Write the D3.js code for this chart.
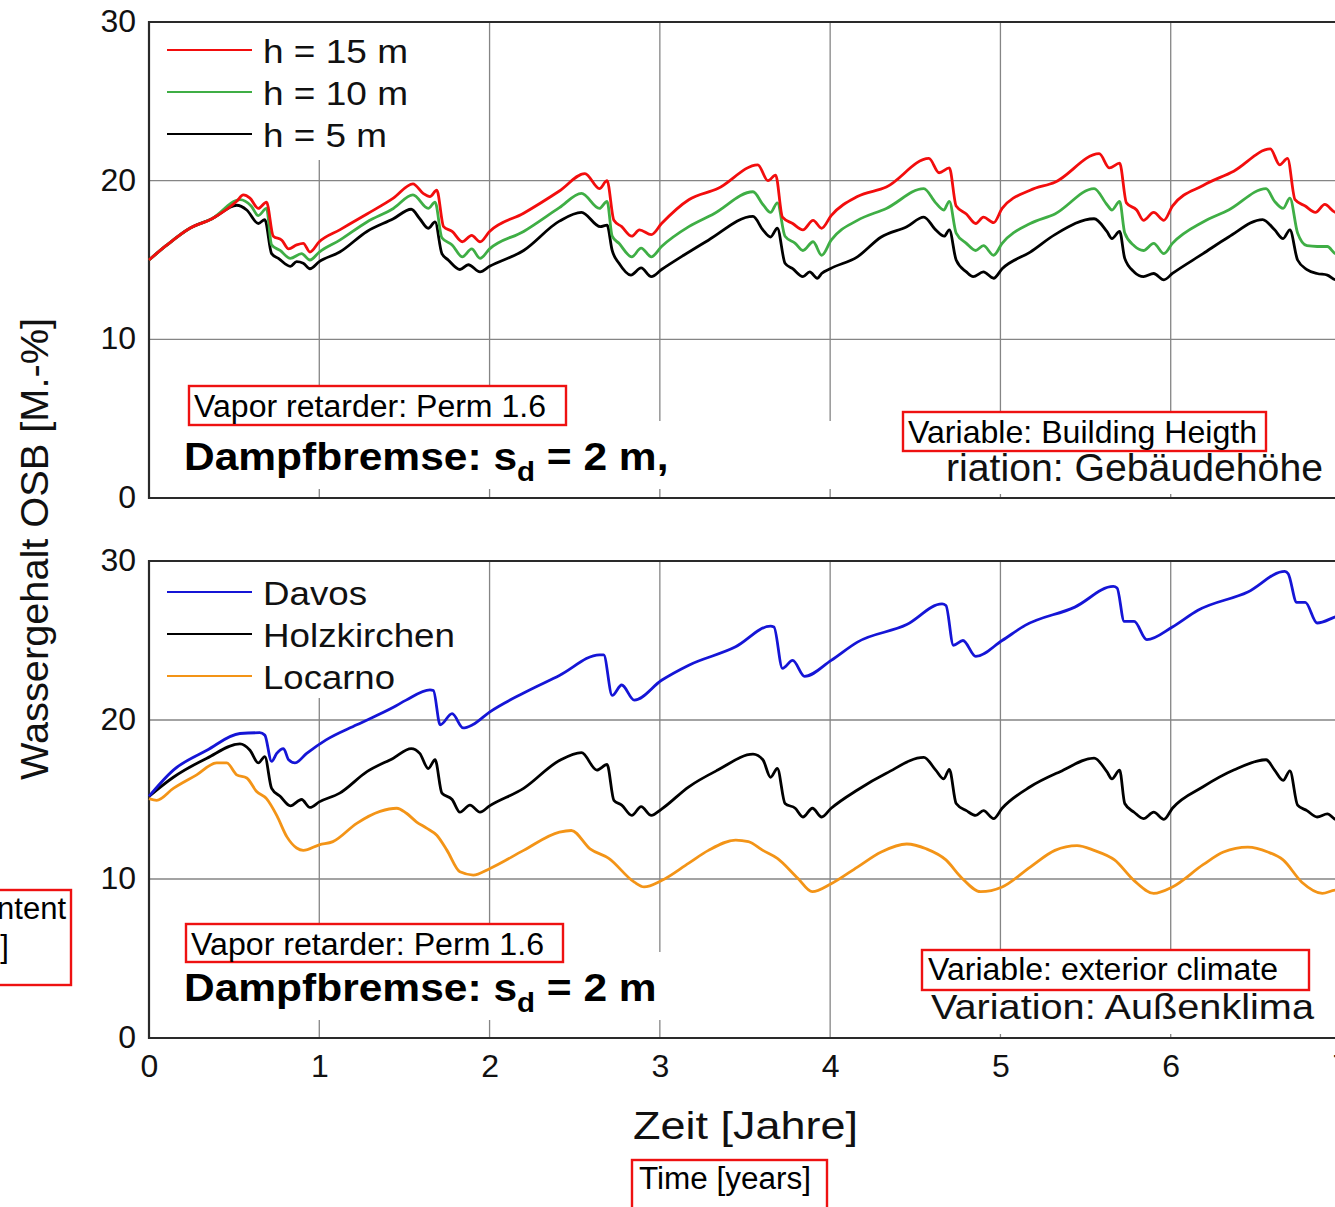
<!DOCTYPE html>
<html>
<head>
<meta charset="utf-8">
<script src="https://cdn.jsdelivr.net/npm/d3@7"></script>
<style>
  body { margin: 0; background: #fff; }
  svg { display: block; font-family: "Liberation Sans", Arial, sans-serif; }
</style>
</head>
<body>
<svg id="chart" width="1335" height="1207"></svg>
<script>
// ---- data: [year, water content M.-%] ----
const years = [0, 1, 2, 3, 4, 5, 6, 7]
const yTicks = [0, 10, 20, 30]

// top panel: building height
const h15 = [[0,15.0],[0.10,15.9],[0.24,17.0],[0.37,17.6],[0.515,18.7],[0.554,19.1],[0.593,18.9],[0.642,18.25],[0.69,18.65],[0.73,16.5],[0.78,16.25],[0.82,15.7],[0.867,15.95],[0.906,16.05],[0.945,15.5],[1.0,16.15],[1.12,16.9],[1.28,17.9],[1.435,18.9],[1.55,19.8],[1.61,19.2],[1.65,19.0],[1.69,19.4],[1.73,17.1],[1.78,16.8],[1.84,16.15],[1.895,16.55],[1.944,16.15],[2.0,16.8],[2.2,17.95],[2.41,19.35],[2.56,20.45],[2.645,19.5],[2.69,20.0],[2.73,17.5],[2.776,17.1],[2.835,16.5],[2.88,16.9],[2.95,16.6],[3.01,17.3],[3.17,18.8],[3.34,19.5],[3.575,21.0],[3.635,20.0],[3.68,20.35],[3.72,17.7],[3.78,17.3],[3.84,16.9],[3.90,17.5],[3.95,17.0],[4.006,17.8],[4.16,19.0],[4.33,19.6],[4.58,21.4],[4.64,20.5],[4.70,20.8],[4.74,18.4],[4.80,17.9],[4.855,17.3],[4.90,17.7],[4.96,17.35],[5.01,18.25],[5.175,19.4],[5.32,19.9],[5.58,21.7],[5.64,20.8],[5.70,21.1],[5.74,18.6],[5.80,18.15],[5.84,17.5],[5.90,18.0],[5.96,17.5],[6.01,18.4],[6.19,19.7],[6.37,20.6],[6.585,22.0],[6.64,21.0],[6.686,21.4],[6.73,18.8],[6.79,18.4],[6.85,18.0],[6.905,18.5],[6.97,18.0],[7.0,18.1]]
const h10 = [[0,15.0],[0.10,15.9],[0.24,17.0],[0.37,17.6],[0.534,18.8],[0.60,18.4],[0.642,17.8],[0.69,18.25],[0.72,15.95],[0.77,15.6],[0.83,15.1],[0.896,15.4],[0.945,15.0],[1.0,15.5],[1.12,16.25],[1.28,17.4],[1.435,18.25],[1.55,19.1],[1.64,18.25],[1.68,18.65],[1.72,16.4],[1.78,15.95],[1.84,15.2],[1.895,15.7],[1.944,15.1],[2.0,15.7],[2.2,16.8],[2.41,18.3],[2.54,19.2],[2.645,18.25],[2.69,18.7],[2.72,16.5],[2.76,16.05],[2.835,15.2],[2.89,15.75],[2.95,15.2],[3.01,15.85],[3.17,17.1],[3.315,17.9],[3.547,19.3],[3.605,18.5],[3.65,18.0],[3.69,18.6],[3.735,16.5],[3.795,16.05],[3.84,15.6],[3.90,16.15],[3.95,15.3],[4.006,16.25],[4.16,17.5],[4.33,18.25],[4.55,19.5],[4.62,18.6],[4.667,18.15],[4.70,18.7],[4.74,16.7],[4.80,16.05],[4.855,15.6],[4.90,15.9],[4.96,15.3],[5.01,16.05],[5.175,17.3],[5.32,17.9],[5.55,19.5],[5.625,18.5],[5.655,18.15],[5.70,18.7],[5.73,16.7],[5.785,15.9],[5.84,15.6],[5.90,16.05],[5.96,15.4],[6.01,16.05],[6.19,17.4],[6.34,18.15],[6.56,19.5],[6.61,18.7],[6.66,18.25],[6.70,18.9],[6.745,16.7],[6.80,15.9],[6.86,15.85],[6.92,15.85],[6.97,15.4],[7.0,15.5]]
const h5 = [[0,15.0],[0.10,15.9],[0.24,17.0],[0.37,17.6],[0.515,18.45],[0.574,18.15],[0.642,17.3],[0.68,17.55],[0.72,15.4],[0.76,15.1],[0.83,14.6],[0.867,14.9],[0.906,14.8],[0.945,14.45],[1.0,14.9],[1.12,15.5],[1.28,16.8],[1.435,17.6],[1.54,18.2],[1.59,17.6],[1.64,17.0],[1.68,17.4],[1.72,15.4],[1.757,15.0],[1.826,14.4],[1.875,14.7],[1.944,14.25],[2.0,14.6],[2.2,15.6],[2.41,17.45],[2.54,18.0],[2.65,17.1],[2.69,17.2],[2.72,15.6],[2.76,14.8],[2.83,14.05],[2.89,14.5],[2.95,13.95],[3.01,14.4],[3.14,15.3],[3.285,16.25],[3.547,17.75],[3.605,16.9],[3.65,16.45],[3.69,17.0],[3.735,14.8],[3.78,14.45],[3.84,13.95],[3.88,14.25],[3.925,13.85],[3.95,14.15],[4.0,14.45],[4.16,15.2],[4.30,16.45],[4.45,17.1],[4.55,17.7],[4.62,16.9],[4.67,16.5],[4.70,16.9],[4.74,15.0],[4.80,14.25],[4.84,13.95],[4.90,14.25],[4.96,13.85],[5.01,14.45],[5.175,15.5],[5.32,16.6],[5.55,17.6],[5.625,16.8],[5.655,16.35],[5.70,16.8],[5.73,15.1],[5.785,14.25],[5.84,13.95],[5.90,14.15],[5.96,13.75],[6.01,14.15],[6.19,15.4],[6.34,16.45],[6.54,17.55],[6.61,16.9],[6.66,16.35],[6.70,16.9],[6.745,15.0],[6.80,14.4],[6.86,14.15],[6.92,14.05],[6.97,13.75],[7.0,13.8]]

// bottom panel: exterior climate
const davos = [[0,15.2],[0.143,16.85],[0.34,18.1],[0.534,19.15],[0.65,19.2],[0.68,19.05],[0.72,17.4],[0.75,17.9],[0.79,18.2],[0.82,17.5],[0.857,17.3],[0.926,17.9],[1.04,18.75],[1.22,19.7],[1.435,20.8],[1.51,21.25],[1.65,21.9],[1.67,21.85],[1.71,19.7],[1.78,20.4],[1.845,19.5],[1.90,19.7],[2.0,20.5],[2.2,21.7],[2.41,22.8],[2.646,24.1],[2.67,24.1],[2.72,21.55],[2.776,22.2],[2.85,21.25],[3.01,22.5],[3.17,23.45],[3.445,24.6],[3.65,25.9],[3.67,25.85],[3.72,23.25],[3.78,23.75],[3.85,22.75],[4.006,23.75],[4.16,24.9],[4.45,26.0],[4.657,27.3],[4.68,27.2],[4.724,24.7],[4.78,25.0],[4.855,24.0],[5.01,25.0],[5.145,25.95],[5.437,27.1],[5.663,28.4],[5.685,28.3],[5.727,26.2],[5.785,26.2],[5.86,25.05],[6.01,25.85],[6.16,26.9],[6.453,28.05],[6.67,29.35],[6.69,29.2],[6.74,27.4],[6.79,27.4],[6.86,26.1],[6.97,26.5],[7.0,26.6]]
const holzkirchen = [[0,15.2],[0.143,16.4],[0.34,17.6],[0.534,18.5],[0.593,18.1],[0.642,17.3],[0.68,17.7],[0.72,15.7],[0.77,15.2],[0.83,14.6],[0.896,15.0],[0.945,14.5],[1.0,14.85],[1.12,15.4],[1.28,16.75],[1.435,17.6],[1.54,18.2],[1.59,17.9],[1.64,16.95],[1.68,17.5],[1.72,15.4],[1.78,15.0],[1.826,14.2],[1.885,14.65],[1.944,14.2],[2.0,14.6],[2.2,15.7],[2.41,17.45],[2.54,17.95],[2.63,16.85],[2.69,17.2],[2.73,14.95],[2.776,14.65],[2.835,14.0],[2.89,14.55],[2.95,14.0],[3.01,14.4],[3.17,15.8],[3.34,16.85],[3.547,17.85],[3.605,17.5],[3.65,16.4],[3.69,16.95],[3.735,14.75],[3.795,14.45],[3.84,13.9],[3.896,14.45],[3.95,13.9],[4.006,14.45],[4.16,15.6],[4.33,16.65],[4.55,17.65],[4.62,16.85],[4.667,16.3],[4.70,16.9],[4.74,14.75],[4.80,14.3],[4.855,14.0],[4.90,14.3],[4.96,13.8],[5.01,14.45],[5.175,15.8],[5.35,16.75],[5.55,17.6],[5.625,16.75],[5.655,16.3],[5.70,16.85],[5.73,14.75],[5.785,14.2],[5.84,13.8],[5.90,14.2],[5.96,13.75],[6.01,14.45],[6.19,15.8],[6.37,16.85],[6.56,17.5],[6.61,16.85],[6.66,16.2],[6.70,16.8],[6.745,14.65],[6.80,14.3],[6.86,13.9],[6.92,14.1],[6.97,13.75],[7.0,13.8]]
const locarno = [[0,15.05],[0.045,14.95],[0.143,15.7],[0.28,16.55],[0.397,17.3],[0.456,17.3],[0.515,16.55],[0.574,16.35],[0.632,15.5],[0.69,15.05],[0.75,14.0],[0.81,12.65],[0.867,11.95],[0.906,11.8],[1.0,12.15],[1.08,12.35],[1.22,13.5],[1.357,14.25],[1.455,14.45],[1.51,14.15],[1.57,13.6],[1.63,13.2],[1.69,12.75],[1.75,11.8],[1.826,10.45],[1.904,10.25],[2.0,10.65],[2.2,11.8],[2.41,12.95],[2.48,13.05],[2.59,11.9],[2.70,11.3],[2.85,9.8],[2.907,9.5],[3.01,9.9],[3.17,11.0],[3.285,11.8],[3.445,12.45],[3.52,12.35],[3.605,11.8],[3.69,11.3],[3.81,10.05],[3.895,9.2],[4.006,9.7],[4.16,10.75],[4.30,11.7],[4.45,12.2],[4.564,11.9],[4.68,11.2],[4.77,10.1],[4.884,9.2],[5.01,9.5],[5.175,10.75],[5.32,11.8],[5.45,12.1],[5.55,11.8],[5.67,11.2],[5.785,9.9],[5.90,9.1],[6.01,9.5],[6.19,10.9],[6.31,11.7],[6.453,12.0],[6.57,11.7],[6.66,11.2],[6.77,9.8],[6.89,9.1],[6.97,9.3],[7.0,9.3]]

const topSeries = [
  {name: "h = 15 m", data: h15, color: "#f20d0d"},
  {name: "h = 10 m", data: h10, color: "#3fae45"},
  {name: "h = 5 m",  data: h5,  color: "#000000"}
]
const bottomSeries = [
  {name: "Davos",       data: davos,       color: "#1515d6"},
  {name: "Holzkirchen", data: holzkirchen, color: "#000000"},
  {name: "Locarno",     data: locarno,     color: "#f39417"}
]

// measured text widths of the legend entries (the source font is a bit wide)
const legendWidth = {"h = 15 m": 145, "h = 10 m": 145, "h = 5 m": 124, "Davos": 104, "Holzkirchen": 192, "Locarno": 132}

const svg = d3.select("#chart")
const narrow = '"Liberation Sans Narrow", "Liberation Sans", Arial, sans-serif'

// shared x, one y per panel
const x = d3.scaleLinear().domain([0, 7]).range([149, 1341])
const panels = [
  {series: topSeries,    y: d3.scaleLinear().domain([0, 30]).range([498, 22]),  legendY: 50,  legendMask: [149, 22, 262, 138]},
  {series: bottomSeries, y: d3.scaleLinear().domain([0, 30]).range([1038, 561]), legendY: 592, legendMask: [149, 561, 312, 137]}
]

// white boxes behind the text blocks (they hide the grid)
const masks = [
  [170, 421, 1180, 68], [900, 412, 441, 82],      // top panel texts
  [172, 952, 530, 68], [915, 950, 426, 84]        // bottom panel texts
]

panels.forEach(function(p, pi){
  const y = p.y
  const g = svg.append("g")

  // grid
  g.selectAll(".vgrid").data(years.slice(1, 7)).join("line")
    .attr("x1", d => x(d)).attr("x2", d => x(d))
    .attr("y1", y(30)).attr("y2", y(0))
    .attr("stroke", "#858585").attr("stroke-width", 1.3)
  g.selectAll(".hgrid").data([10, 20]).join("line")
    .attr("x1", x(0)).attr("x2", 1341)
    .attr("y1", d => y(d)).attr("y2", d => y(d))
    .attr("stroke", "#858585").attr("stroke-width", 1.3)

  // masks
  g.append("rect").attr("x", p.legendMask[0]).attr("y", p.legendMask[1])
    .attr("width", p.legendMask[2]).attr("height", p.legendMask[3]).attr("fill", "#fff")
  masks.slice(pi * 2, pi * 2 + 2).forEach(function(m){
    g.append("rect").attr("x", m[0]).attr("y", m[1]).attr("width", m[2]).attr("height", m[3]).attr("fill", "#fff")
  })

  // frame: left, top, bottom
  g.append("path")
    .attr("d", `M1341,${y(30)}H${x(0)}V${y(0)}H1341`)
    .attr("fill", "none").attr("stroke", "#2a2a2a").attr("stroke-width", 2.2)

  // y tick labels
  const ya = g.append("g").attr("transform", `translate(${x(0)},0)`)
    .call(d3.axisLeft(y).tickValues(yTicks).tickSize(0).tickPadding(13))
  ya.select(".domain").remove()
  ya.selectAll("text").attr("font-size", 32).attr("font-family", '"Liberation Sans", Arial, sans-serif')
    .attr("fill", "#111").attr("dy", "0.3em")

  // lines
  const line = d3.line().x(d => x(d[0])).y(d => y(d[1])).curve(d3.curveMonotoneX)
  g.selectAll(".series").data(p.series.slice().reverse()).join("path")
    .attr("d", d => line(d.data))
    .attr("fill", "none")
    .attr("stroke", d => d.color)
    .attr("stroke-width", 2.8)
    .attr("stroke-linejoin", "round")

  // legend
  p.series.forEach(function(s, i){
    const ly = p.legendY + i * 42
    g.append("line").attr("x1", 167).attr("x2", 252).attr("y1", ly).attr("y2", ly)
      .attr("stroke", s.color).attr("stroke-width", 2.2)
    g.append("text").attr("x", 263).attr("y", ly + 13)
      .attr("font-size", 34).attr("fill", "#111")
      .attr("textLength", legendWidth[s.name]).attr("lengthAdjust", "spacingAndGlyphs")
      .text(s.name)
  })
})

// x tick labels
const xa = svg.append("g").attr("transform", "translate(0,1038)")
  .call(d3.axisBottom(x).tickValues(years).tickFormat(d3.format("d")).tickSize(0).tickPadding(16))
xa.select(".domain").remove()
xa.selectAll("text").attr("font-size", 32).attr("font-family", '"Liberation Sans", Arial, sans-serif').attr("fill", "#111")

// axis titles
svg.append("text").attr("x", 633).attr("y", 1139).attr("font-size", 38)
  .attr("textLength", 225).attr("lengthAdjust", "spacingAndGlyphs").attr("fill", "#111").text("Zeit [Jahre]")
svg.append("text").attr("transform", "translate(48,549) rotate(-90)").attr("text-anchor", "middle")
  .attr("font-size", 39).attr("textLength", 462).attr("lengthAdjust", "spacingAndGlyphs")
  .attr("fill", "#111").text("Wassergehalt OSB [M.-%]")

// bold "Dampfbremse: s_d = 2 m" labels
function dampf(xp, yp, tail, sx){
  const t = svg.append("text").attr("transform", `translate(${xp},${yp}) scale(${sx},1)`)
    .attr("font-size", 39).attr("font-weight", "bold").attr("fill", "#000")
  t.append("tspan").text("Dampfbremse: s")
  t.append("tspan").attr("font-size", 27).attr("dy", 11).text("d")
  t.append("tspan").attr("dy", -11).text(tail)
}
dampf(184, 470, " = 2 m,", 1.09)
dampf(184, 1001, " = 2 m", 1.09)

// plain German labels
function label(txt, xp, yp, size, len, family){
  return svg.append("text").attr("x", xp).attr("y", yp).attr("font-size", size)
    .attr("font-family", family || null)
    .attr("textLength", len).attr("lengthAdjust", "spacingAndGlyphs").attr("fill", "#111").text(txt)
}
label("riation: Gebäudehöhe", 946, 481, 38, 377)
label("Variation: Außenklima", 931, 1019, 35, 383)

// red translation boxes
const redBoxes = [
  {txt: "Vapor retarder: Perm 1.6",   box: [189, 386, 377, 39],  tx: 194, ty: 417,  size: 31, len: 352, family: narrow},
  {txt: "Variable: Building Heigth",  box: [903, 412, 363, 39],  tx: 908, ty: 443,  size: 32, len: 349},
  {txt: "Vapor retarder: Perm 1.6",   box: [186, 924, 377, 38],  tx: 191, ty: 955,  size: 31, len: 353, family: narrow},
  {txt: "Variable: exterior climate", box: [922, 950, 387, 40],  tx: 928, ty: 980,  size: 31, len: 350, family: narrow},
  {txt: "Time [years]",               box: [632, 1160, 195, 60], tx: 639, ty: 1189, size: 31, len: 172, family: narrow}
]
redBoxes.forEach(function(b){
  svg.append("rect").attr("x", b.box[0]).attr("y", b.box[1]).attr("width", b.box[2]).attr("height", b.box[3])
    .attr("fill", "#fff").attr("stroke", "#ee1111").attr("stroke-width", 2.4)
  label(b.txt, b.tx, b.ty, b.size, b.len, b.family).attr("fill", "#000")
})

// cut-off box at the left edge
svg.append("rect").attr("x", -10).attr("y", 890).attr("width", 81).attr("height", 95)
  .attr("fill", "#fff").attr("stroke", "#ee1111").attr("stroke-width", 2.4)
svg.append("text").attr("x", 66).attr("y", 919).attr("text-anchor", "end").attr("font-size", 31)
  .attr("font-family", narrow).attr("fill", "#000").text("Moisture content")
svg.append("text").attr("x", 9).attr("y", 957).attr("text-anchor", "end").attr("font-size", 31)
  .attr("font-family", narrow).attr("fill", "#000").text("[M.-%]")
</script>
</body>
</html>
